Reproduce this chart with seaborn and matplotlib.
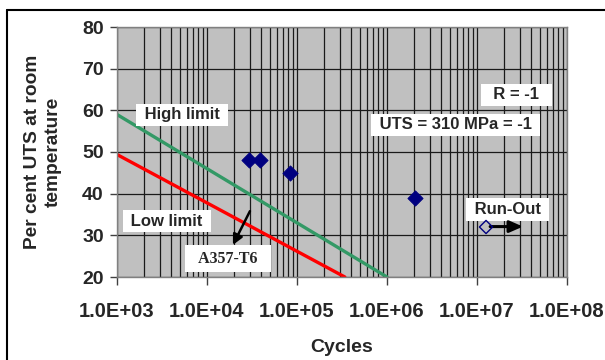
import numpy as np
import pandas as pd
import matplotlib
matplotlib.use("Agg")
import matplotlib.pyplot as plt
from matplotlib.lines import Line2D
from matplotlib.ticker import LogLocator, FixedLocator
import seaborn as sns

# ---- data ----
high_cycles = [1.0e3, 1.0e6]
high_pct = [59.0, 20.0]
low_cycles = [1.0e3, 3.4e5]
low_pct = [49.4, 20.0]
test_cycles = [2.93e4, 3.88e4, 8.36e4, 2.05e6]
test_pct = [48.0, 48.0, 45.0, 39.0]
runout_cycles = [1.26e7]
runout_pct = [32.0]
x_ticks = [1e3, 1e4, 1e5, 1e6, 1e7, 1e8]
x_ticklabels = ["1.0E+03", "1.0E+04", "1.0E+05", "1.0E+06", "1.0E+07", "1.0E+08"]
y_ticks = [20, 30, 40, 50, 60, 70, 80]

sns.set_style("white")
plt.rcParams['font.family'] = ['Liberation Sans', 'DejaVu Sans']

fig = plt.figure(figsize=(6.05, 3.6), dpi=100)
ax = fig.add_axes([117/605, 1-277/360, 450/605, 250/360])
ax.set_facecolor('#C0C0C0')
ax.set_xscale('log')
ax.set_xlim(1e3, 1e8)
ax.set_ylim(20, 80)

# grid
ax.xaxis.set_major_locator(FixedLocator(x_ticks))
ax.xaxis.set_minor_locator(LogLocator(base=10, subs=np.arange(2, 10), numticks=100))
ax.set_yticks(y_ticks)
ax.grid(True, which='major', axis='both', color='#1a1a1a', lw=0.9)
ax.grid(True, which='minor', axis='x', color='#1a1a1a', lw=0.9)
ax.set_axisbelow(True)

hi = pd.DataFrame({'cycles': high_cycles, 'pct': high_pct})
lo = pd.DataFrame({'cycles': low_cycles, 'pct': low_pct})
sns.lineplot(data=hi, x='cycles', y='pct', ax=ax, color='#339966', lw=2.4)
sns.lineplot(data=lo, x='cycles', y='pct', ax=ax, color='#FF0000', lw=2.4)

tests = pd.DataFrame({'cycles': test_cycles, 'pct': test_pct})
sns.scatterplot(data=tests, x='cycles', y='pct', ax=ax, marker='D', s=60,
                color='#000080', edgecolor='#000080', zorder=5)
ro = pd.DataFrame({'cycles': runout_cycles, 'pct': runout_pct})
sns.scatterplot(data=ro, x='cycles', y='pct', ax=ax, marker='D', s=45,
                facecolor='none', edgecolor='#000080', linewidth=1.0, zorder=8)

for s in ax.spines.values():
    s.set_color('#808080')
    s.set_linewidth(1.0)

ax.set_xticklabels(x_ticklabels)
ax.tick_params(axis='x', which='major', direction='out', length=6, width=1,
               color='#404040', pad=12, labelsize=14.5)
ax.tick_params(axis='x', which='minor', length=0)
ax.tick_params(axis='y', which='major', direction='out', length=5, width=1,
               color='#404040', pad=4.5, labelsize=14)
ax.tick_params(left=True, bottom=True)
for lab in ax.get_xticklabels() + ax.get_yticklabels():
    lab.set_fontweight('bold')

ax.set_xlabel('Cycles', fontsize=14, fontweight='bold')
ax.set_ylabel('Per cent UTS at room\ntemperature', fontsize=13.8, fontweight='bold',
              linespacing=1.3)
ax.xaxis.set_label_coords(0.5, -0.25)
ax.yaxis.set_label_coords(-0.122, 0.5)

box = dict(boxstyle='square,pad=0.22', fc='white', ec='none')
tk = dict(fontsize=12, fontweight='bold', ha='center', va='center', bbox=box, zorder=6)
ax.text(5.27e3, 58.9, ' High limit ', **tk)
ax.text(3.59e3, 33.4, ' Low limit ', **tk)
ax.text(2.75e7, 63.7, '  R = -1  ', **tk)
ax.text(5.77e6, 56.5, ' UTS = 310 MPa = -1 ', **tk)
ax.text(2.18e7, 36.2, ' Run-Out ', **tk)
ax.text(1.71e4, 24.4, '  A357-T6  ', fontsize=11.5, fontweight='bold', ha='center',
        va='center', family=['Liberation Serif', 'DejaVu Serif'],
        bbox=dict(boxstyle='square,pad=0.35', fc='white', ec='none'), zorder=6)

ax.annotate('', xy=(1.94e4, 27.7), xytext=(3.0e4, 35.8),
            arrowprops=dict(arrowstyle='-|>,head_length=0.6,head_width=0.3',
                            color='black', lw=1.8, shrinkA=0, shrinkB=0), zorder=7)
ax.annotate('', xy=(3.24e7, 32.1), xytext=(1.4e7, 32.1),
            arrowprops=dict(arrowstyle='-|>,head_length=0.8,head_width=0.35',
                            color='black', lw=2.2, shrinkA=0, shrinkB=0), zorder=7)

# outer frame
fig.add_artist(Line2D([7/605, 7/605], [0, 1-10/360], transform=fig.transFigure,
                      color='black', lw=1.5))
fig.add_artist(Line2D([7/605, 1], [1-10/360, 1-10/360], transform=fig.transFigure,
                      color='black', lw=1.5))

fig.savefig('out.png', dpi=100)
